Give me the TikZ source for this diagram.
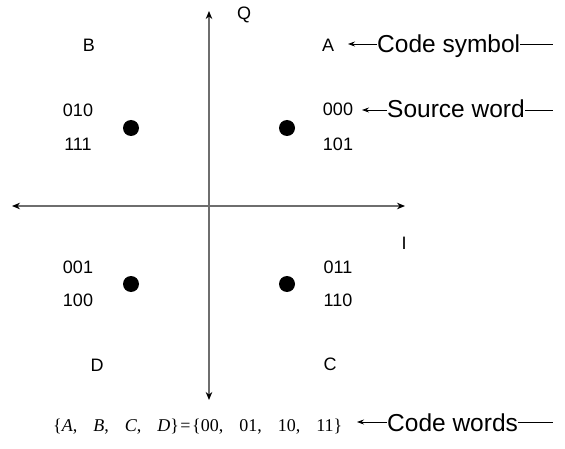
\documentclass[tikz,border=0pt]{standalone}
\usepackage{fontspec}
\setmainfont{Liberation Sans}
\newfontfamily\timesface{Liberation Serif}
\usetikzlibrary{arrows.meta}
\definecolor{axisgray}{RGB}{110,110,110}
\begin{document}
\begin{tikzpicture}[x=1pt,y=-1pt,
  axis/.style={draw=axisgray,line width=1.4pt,-{Stealth[length=8pt,width=6.5pt,color=black]}},
  small/.style={font=\fontsize{18}{20}\selectfont,inner sep=0pt},
  big/.style={font=\fontsize{24.5}{27}\selectfont,inner sep=0pt,anchor=base west},
  pointer/.style={draw=black,line width=0.8pt,-{Stealth[length=7pt,width=5pt]}},
  tail/.style={draw=black,line width=0.8pt},
  dot/.style={circle,fill=black,inner sep=0pt,minimum size=16pt}]
\useasboundingbox (0,0) rectangle (565,449);
% axes
\coordinate (vtop) at (209,11);
\coordinate (vbot) at (209,400);
\coordinate (hleft) at (12,206);
\coordinate (hright) at (405,206);
\coordinate (origin) at (209,206);
\draw[axis] (origin) -- (vtop);
\draw[axis] (origin) -- (vbot);
\draw[axis] (origin) -- (hleft);
\draw[axis] (origin) -- (hright);
\node[small] (Q) at (244,15) {Q};
\node[small] (I) at (404,243) {I};
% points
\node[dot] (pB) at (131,128) {};
\node[dot] (pA) at (287,128) {};
\node[dot] (pD) at (131,284) {};
\node[dot] (pC) at (287,284) {};
% symbols
\node[small] (B) at (89,45) {B};
\node[small] (A) at (328,45) {A};
\node[small] (D) at (97,365) {D};
\node[small] (C) at (330,364) {C};
% source words
\node[small] (b1) at (78,110) {010};
\node[small] (b2) at (78,144) {111};
\node[small] (a1) at (338,109) {000};
\node[small] (a2) at (338,144) {101};
\node[small] (d1) at (78,267) {001};
\node[small] (d2) at (78,300) {100};
\node[small] (c1) at (338,267) {011};
\node[small] (c2) at (338,300) {110};
% annotations
\node[big] (cs) at (377,53) {Code symbol};
\coordinate (csTip) at (348,44);
\coordinate (csEnd) at (553,44);
\draw[pointer] (cs.west |- csTip) -- (csTip);
\draw[tail] (cs.east |- csEnd) -- (csEnd);
\node[big] (sw) at (387,118) {Source word};
\coordinate (swTip) at (362,110);
\coordinate (swEnd) at (553,110);
\draw[pointer] (sw.west |- swTip) -- (swTip);
\draw[tail] (sw.east |- swEnd) -- (swEnd);
\node[big] (cw) at (387,431) {Code words};
\coordinate (cwTip) at (357,422);
\coordinate (cwEnd) at (553,422);
\draw[pointer] (cw.west |- cwTip) -- (cwTip);
\draw[tail] (cw.east |- cwEnd) -- (cwEnd);
% formula
\node[font=\timesface\fontsize{18}{20}\selectfont,inner sep=0pt,anchor=base west] (formula) at (53,431)
  {\{\textit{A},\hspace{16pt}\textit{B},\hspace{16pt}\textit{C},\hspace{16pt}\textit{D}\}\hspace{1.5pt}=\hspace{1.5pt}\{00,\hspace{16pt}01,\hspace{16pt}10,\hspace{16pt}11\}};
\end{tikzpicture}
\end{document}
